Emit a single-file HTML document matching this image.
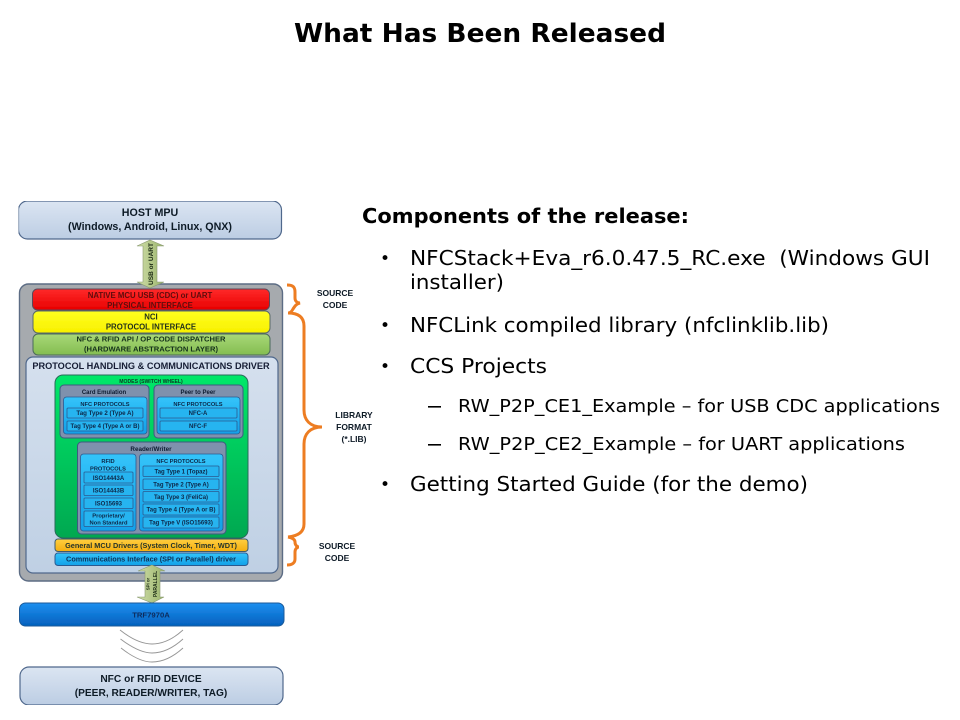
<!DOCTYPE html>
<html><head><meta charset="utf-8"><title>What Has Been Released</title>
<style>html,body{margin:0;padding:0;background:#fff;width:960px;height:720px;overflow:hidden}svg{display:block}</style>
</head><body>
<svg xmlns="http://www.w3.org/2000/svg" width="960" height="720" viewBox="0 0 960 720">
<defs>
<linearGradient id="gh" x1="0" y1="0" x2="0" y2="1"><stop offset="0" stop-color="#dbe5f2"/><stop offset="1" stop-color="#bccde3"/></linearGradient>
<linearGradient id="gp" x1="0" y1="0" x2="0" y2="1"><stop offset="0" stop-color="#d5e0ee"/><stop offset="1" stop-color="#bfd0e4"/></linearGradient>
<linearGradient id="gr" x1="0" y1="0" x2="0" y2="1"><stop offset="0" stop-color="#ff2a2a"/><stop offset="1" stop-color="#e80000"/></linearGradient>
<linearGradient id="gy" x1="0" y1="0" x2="0" y2="1"><stop offset="0" stop-color="#ffff20"/><stop offset="1" stop-color="#f8f000"/></linearGradient>
<linearGradient id="gg" x1="0" y1="0" x2="0" y2="1"><stop offset="0" stop-color="#a8d878"/><stop offset="1" stop-color="#84bd50"/></linearGradient>
<linearGradient id="gm" x1="0" y1="0" x2="0" y2="1"><stop offset="0" stop-color="#00e868"/><stop offset="1" stop-color="#00a850"/></linearGradient>
<linearGradient id="gb" x1="0" y1="0" x2="0" y2="1"><stop offset="0" stop-color="#34c4fa"/><stop offset="1" stop-color="#12a0e8"/></linearGradient>
<linearGradient id="gt" x1="0" y1="0" x2="0" y2="1"><stop offset="0" stop-color="#1c8ff0"/><stop offset="1" stop-color="#0460bd"/></linearGradient>
<linearGradient id="go" x1="0" y1="0" x2="0" y2="1"><stop offset="0" stop-color="#ffcf40"/><stop offset="1" stop-color="#f4ae10"/></linearGradient>
<linearGradient id="ga" x1="0" y1="0" x2="1" y2="0"><stop offset="0" stop-color="#d0dea8"/><stop offset="1" stop-color="#9ab46c"/></linearGradient>
<filter id="soft" x="0" y="0" width="100%" height="100%"><feGaussianBlur stdDeviation="0.35"/></filter>
</defs>

<g font-family="'DejaVu Sans',Verdana,sans-serif" fill="#000">
<text x="294" y="42" font-size="26" font-weight="bold" textLength="372" lengthAdjust="spacingAndGlyphs">What Has Been Released</text>
<text x="362" y="223" font-size="20" font-weight="bold" textLength="327" lengthAdjust="spacingAndGlyphs">Components of the release:</text>
<g font-size="20">
<text x="380" y="264" font-size="17">•</text>
<text x="410" y="265" textLength="520" lengthAdjust="spacingAndGlyphs" xml:space="preserve">NFCStack+Eva_r6.0.47.5_RC.exe  (Windows GUI</text>
<text x="410" y="289" textLength="94" lengthAdjust="spacingAndGlyphs">installer)</text>
<text x="380" y="331" font-size="17">•</text>
<text x="410" y="332" textLength="419" lengthAdjust="spacingAndGlyphs">NFCLink compiled library (nfclinklib.lib)</text>
<text x="380" y="372" font-size="17">•</text>
<text x="410" y="373" textLength="137" lengthAdjust="spacingAndGlyphs">CCS Projects</text>
<text x="380" y="490" font-size="17">•</text>
<text x="410" y="491" textLength="398" lengthAdjust="spacingAndGlyphs">Getting Started Guide (for the demo)</text>
</g>
<g font-size="18">
<rect x="428" y="406" width="13" height="1.6"/>
<text x="458" y="412" textLength="482" lengthAdjust="spacingAndGlyphs">RW_P2P_CE1_Example – for USB CDC applications</text>
<rect x="428" y="444" width="13" height="1.6"/>
<text x="458" y="450" textLength="447" lengthAdjust="spacingAndGlyphs">RW_P2P_CE2_Example – for UART applications</text>
</g>
</g>

<g filter="url(#soft)" font-family="'Liberation Sans',Arial,sans-serif" font-weight="bold" text-anchor="middle">
<!-- host -->
<rect x="18.5" y="201" width="263" height="38" rx="9" fill="url(#gh)" stroke="#50688c" stroke-width="1.2"/>
<text x="150" y="216" font-size="10.7" fill="#101a28">HOST MPU</text>
<text x="150" y="230" font-size="10.7" fill="#101a28">(Windows, Android, Linux, QNX)</text>

<!-- outer -->
<rect x="19.5" y="284" width="263" height="297" rx="9" fill="#a6aaae" stroke="#5c6c84" stroke-width="1.4"/>

<!-- arrow USB -->
<path d="M150 240 L164 246 L157 246 L157 282 L164 282 L150 288 L137 282 L143 282 L143 246 L137 246 Z" fill="url(#ga)" stroke="#8a9a70" stroke-width="0.6"/>
<text transform="translate(153,264) rotate(-90)" font-size="6.5" fill="#1a2a14">USB or UART</text>

<rect x="32.500" y="289" width="237" height="21" rx="5" fill="url(#gr)" stroke="#5a4a5a" stroke-width="1"/>
<text x="150" y="298" font-size="7.800" fill="#5e0c0c">NATIVE MCU USB (CDC) or UART</text>
<text x="150" y="308" font-size="7.800" fill="#5e0c0c">PHYSICAL INTERFACE</text>
<rect x="33" y="311" width="237" height="22" rx="5" fill="url(#gy)" stroke="#5a6a6a" stroke-width="1"/>
<text x="151" y="319.500" font-size="7.800" fill="#22301a">NCI</text>
<text x="151" y="329.500" font-size="7.800" fill="#22301a">PROTOCOL INTERFACE</text>
<rect x="33" y="334" width="237" height="21" rx="5" fill="url(#gg)" stroke="#4c6a5c" stroke-width="1"/>
<text x="151" y="341.500" font-size="7.600" fill="#14301a">NFC &amp; RFID API / OP CODE DISPATCHER</text>
<text x="151" y="351.500" font-size="7.600" fill="#14301a">(HARDWARE ABSTRACTION LAYER)</text>

<rect x="26" y="357" width="252" height="216" rx="7" fill="url(#gp)" stroke="#50688c" stroke-width="1.2"/>
<text x="151" y="369" font-size="9.200" fill="#141f34">PROTOCOL HANDLING &amp; COMMUNICATIONS DRIVER</text>

<rect x="55" y="375" width="193" height="163" rx="8" fill="url(#gm)" stroke="#2a6a5a" stroke-width="1"/>
<text x="151" y="383" font-size="5.100" fill="#0c3a24">MODES (SWITCH WHEEL)</text>

<!-- card emu -->
<rect x="60" y="385" width="89" height="53" rx="4" fill="#7f91ad" stroke="#3d5a80" stroke-width="1"/>
<text x="104" y="394" font-size="6" fill="#101c30">Card Emulation</text>
<rect x="63.500" y="397" width="83.500" height="37" rx="3" fill="url(#gb)" stroke="#2c5a90" stroke-width="0.8"/>
<text x="105" y="406" font-size="5.700" fill="#0c2848">NFC PROTOCOLS</text>
<rect x="67" y="408" width="76" height="10" rx="1" fill="#28b4f0" stroke="#2c5a90" stroke-width="0.8"/>
<text x="105" y="415" font-size="6.200" fill="#0c2848">Tag Type 2 (Type A)</text>
<rect x="67" y="421" width="76" height="10" rx="1" fill="#28b4f0" stroke="#2c5a90" stroke-width="0.8"/>
<text x="105" y="428" font-size="6" fill="#0c2848">Tag Type 4 (Type A or B)</text>

<!-- peer -->
<rect x="154" y="385" width="89" height="53" rx="4" fill="#7f91ad" stroke="#3d5a80" stroke-width="1"/>
<text x="198" y="394" font-size="6" fill="#101c30">Peer to Peer</text>
<rect x="157" y="397" width="83" height="37" rx="3" fill="url(#gb)" stroke="#2c5a90" stroke-width="0.8"/>
<text x="198" y="406" font-size="5.700" fill="#0c2848">NFC PROTOCOLS</text>
<rect x="160" y="408" width="77" height="10" rx="1" fill="#28b4f0" stroke="#2c5a90" stroke-width="0.8"/>
<text x="198" y="415" font-size="6" fill="#0c2848">NFC-A</text>
<rect x="160" y="421" width="77" height="10" rx="1" fill="#28b4f0" stroke="#2c5a90" stroke-width="0.8"/>
<text x="198" y="428" font-size="6" fill="#0c2848">NFC-F</text>

<!-- reader writer -->
<rect x="77.500" y="442" width="148.500" height="92" rx="4" fill="#7f91ad" stroke="#3d5a80" stroke-width="1"/>
<text x="151" y="451" font-size="6.300" fill="#101c30">Reader/Writer</text>
<rect x="80.500" y="454" width="55.500" height="77" rx="3" fill="url(#gb)" stroke="#2c5a90" stroke-width="0.8"/>
<text x="108" y="463" font-size="5.700" fill="#0c2848">RFID</text>
<text x="108" y="470.500" font-size="5.700" fill="#0c2848">PROTOCOLS</text>
<rect x="84" y="472" width="49" height="11" rx="1" fill="#28b4f0" stroke="#2c5a90" stroke-width="0.8"/>
<text x="108.500" y="480" font-size="6" fill="#0c2848">ISO14443A</text>
<rect x="84" y="485" width="49" height="10.500" rx="1" fill="#28b4f0" stroke="#2c5a90" stroke-width="0.8"/>
<text x="108.500" y="492.500" font-size="6" fill="#0c2848">ISO14443B</text>
<rect x="84" y="498" width="49" height="10.500" rx="1" fill="#28b4f0" stroke="#2c5a90" stroke-width="0.8"/>
<text x="108.500" y="505.500" font-size="6" fill="#0c2848">ISO15693</text>
<rect x="84" y="511" width="49" height="15.500" rx="1" fill="#28b4f0" stroke="#2c5a90" stroke-width="0.8"/>
<text x="108.500" y="517.500" font-size="5.800" fill="#0c2848">Proprietary/</text>
<text x="108.500" y="524.500" font-size="5.800" fill="#0c2848">Non Standard</text>

<rect x="139.500" y="454" width="83.500" height="77" rx="3" fill="url(#gb)" stroke="#2c5a90" stroke-width="0.8"/>
<text x="181" y="463" font-size="5.700" fill="#0c2848">NFC PROTOCOLS</text>
<rect x="143" y="466" width="76" height="10.500" rx="1" fill="#28b4f0" stroke="#2c5a90" stroke-width="0.8"/>
<text x="181" y="473.500" font-size="6" fill="#0c2848">Tag Type 1 (Topaz)</text>
<rect x="143" y="479" width="76" height="10.500" rx="1" fill="#28b4f0" stroke="#2c5a90" stroke-width="0.8"/>
<text x="181" y="486.500" font-size="6" fill="#0c2848">Tag Type 2 (Type A)</text>
<rect x="143" y="491.500" width="76" height="10.500" rx="1" fill="#28b4f0" stroke="#2c5a90" stroke-width="0.8"/>
<text x="181" y="499" font-size="6" fill="#0c2848">Tag Type 3 (FeliCa)</text>
<rect x="143" y="504" width="76" height="11" rx="1" fill="#28b4f0" stroke="#2c5a90" stroke-width="0.8"/>
<text x="181" y="511.500" font-size="6" fill="#0c2848">Tag Type 4 (Type A or B)</text>
<rect x="143" y="517" width="76" height="11" rx="1" fill="#28b4f0" stroke="#2c5a90" stroke-width="0.8"/>
<text x="181" y="524.500" font-size="6" fill="#0c2848">Tag Type V (ISO15693)</text>

<rect x="55" y="539" width="193" height="12.500" rx="3" fill="url(#go)" stroke="#3a5a70" stroke-width="1"/>
<text x="151" y="548" font-size="7.300" fill="#26342a">General MCU Drivers (System Clock, Timer, WDT)</text>
<rect x="55" y="553" width="193" height="12.500" rx="3" fill="url(#gb)" stroke="#2c5a90" stroke-width="1"/>
<text x="151" y="561.500" font-size="7.300" fill="#0c3058">Communications Interface (SPI or Parallel) driver</text>

<!-- arrow SPI -->
<path d="M152 565 L165 571 L160 571 L160 597 L164 597 L152 603 L137 597 L145 597 L145 571 L138 571 Z" fill="url(#ga)" stroke="#8a9a70" stroke-width="0.6"/>
<text transform="translate(149.500,584) rotate(-90)" font-size="4.300" fill="#1a2a14">SPI or</text>
<text transform="translate(157,584) rotate(-90)" font-size="5" fill="#1a2a14">PARALLEL</text>

<rect x="19.500" y="603" width="264.500" height="23" rx="6" fill="url(#gt)" stroke="#1a5a9a" stroke-width="1"/>
<text x="151" y="617.500" font-size="7.700" fill="#0c2c5c">TRF7970A</text>

<g fill="none" stroke="#959595" stroke-width="0.9">
<path d="M120 630 C135 642 145 644 152 644 C162 644 172 640 183 630"/>
<path d="M120.500 639 C135 650 145 653 152 653 C162 653 172 649 183 639"/>
<path d="M121 648 C135 659 145 662 152 662 C162 662 172 658 183 648"/>
</g>

<rect x="20" y="667" width="263" height="38" rx="9" fill="url(#gh)" stroke="#50688c" stroke-width="1.2"/>
<text x="151" y="682" font-size="10.200" fill="#101a28">NFC or RFID DEVICE</text>
<text x="151" y="696" font-size="10.200" fill="#101a28">(PEER, READER/WRITER, TAG)</text>

<!-- braces -->
<g fill="none" stroke="#ed7d22" stroke-width="3">
<path d="M287 285 C293 285 295 287 295 292 L295 298 C295 301 297 303 300 303 C296 304 295 306 293 309 C292 311 290 313 288 313"/>
<path d="M288 313 C297 313 304 316 304 326 L304 410 C304 420 310 427 322 427 C310 427 304 434 304 444 L304 524 C304 532 298 536 288 537"/>
<path d="M288 537 C293 538 295 540 295 542 C295 545 297 547 299 547 C297 547 295 549 295 552 L295 559 C295 563 292 565 287 565"/>
</g>

<g fill="#101a28" font-size="8.500">
<text x="335" y="296">SOURCE</text>
<text x="335" y="308">CODE</text>
<text x="354" y="418">LIBRARY</text>
<text x="354" y="430">FORMAT</text>
<text x="354" y="442">(*.LIB)</text>
<text x="337" y="549">SOURCE</text>
<text x="337" y="561">CODE</text>
</g>
</g>
</svg>
</body></html>
